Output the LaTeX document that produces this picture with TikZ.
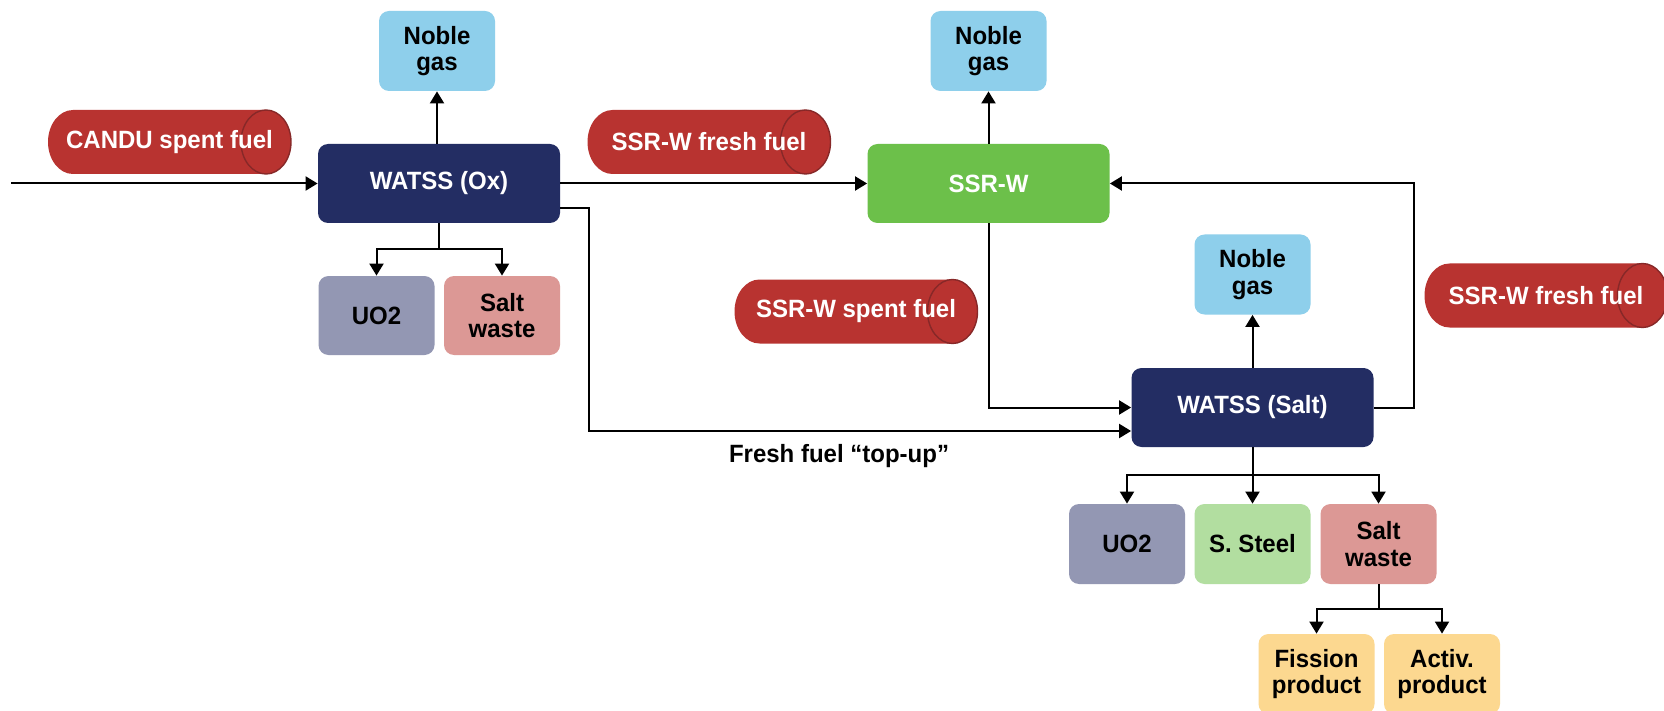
\documentclass[tikz,border=0pt]{standalone}
\usepackage{fontspec}
\setmainfont{Liberation Sans}[FakeStretch=0.96]
\usetikzlibrary{arrows.meta}
\definecolor{navy}{RGB}{35,45,99}
\definecolor{ssrgreen}{RGB}{108,192,74}
\definecolor{gasblue}{RGB}{142,207,235}
\definecolor{uogray}{RGB}{147,151,179}
\definecolor{saltpink}{RGB}{220,152,149}
\definecolor{steelgreen}{RGB}{178,222,160}
\definecolor{prodyellow}{RGB}{252,216,144}
\definecolor{fuelred}{RGB}{184,51,48}
\definecolor{capred}{RGB}{135,40,40}
\tikzset{
  base/.style={rounded corners=5pt, inner sep=0pt, align=center,
    font=\fontsize{12.5}{13.2}\selectfont\bfseries},
  bigbox/.style={base, minimum width=121pt, minimum height=39.5pt, text=white},
  smallbox/.style={base, minimum width=58pt, minimum height=39.5pt, text=black},
  fueltext/.style={inner sep=0pt, text=white, font=\fontsize{12.5}{13.2}\selectfont\bfseries},
  lbl/.style={inner sep=0pt, font=\fontsize{12.5}{13.2}\selectfont\bfseries},
  arr/.style={line width=1pt, -{Triangle[length=6pt,width=7pt]}},
  capline/.style={draw=capred, line width=0.7pt}
}
\newcommand\fuelcyl[4]{%
  \pgfmathsetmacro\cylL{#2-96.5}\pgfmathsetmacro\cylR{#2+96.5}%
  \pgfmathsetmacro\cylT{#3-32}\pgfmathsetmacro\cylB{#3+32}%
  \fill[fuelred] (\cylL,\cylT) -- (\cylR,\cylT)
    arc[start angle=90,end angle=-90,x radius=12.5pt,y radius=16pt]
    -- (\cylL,\cylB)
    arc[start angle=270,end angle=90,x radius=12.5pt,y radius=16pt] -- cycle;
  \draw[capline] (\cylR,#3) ellipse[x radius=12.5pt,y radius=16pt];
  \node[fueltext] (#1) at (#2,#3) {#4};
}
\begin{document}
\begin{tikzpicture}[x=0.5pt,y=-0.5pt]
\clip (0,0) rectangle (1664,711);
\fill[white] (0,0) rectangle (1664,711);

% fuel cylinders
\fuelcyl{candu}{169.5}{142}{CANDU spent fuel}
\fuelcyl{freshA}{709}{142}{SSR-W fresh fuel}
\fuelcyl{spent}{856}{311.5}{SSR-W spent fuel}
\fuelcyl{freshB}{1546}{295.5}{SSR-W fresh fuel}

% main process boxes
\node[bigbox, fill=navy] (watssox) at (439,183.5) {WATSS (Ox)};
\node[bigbox, fill=ssrgreen] (ssrw) at (988.5,183.5) {SSR-W};
\node[bigbox, fill=navy] (watsssalt) at (1252.5,407.5) {WATSS (Salt)};

% noble gas
\node[smallbox, fill=gasblue, minimum height=40pt] (ngA) at (437,51) {Noble\\gas};
\node[smallbox, fill=gasblue, minimum height=40pt] (ngB) at (988.5,51) {Noble\\gas};
\node[smallbox, fill=gasblue, minimum height=40pt] (ngC) at (1252.5,274.5) {Noble\\gas};

% products of WATSS (Ox)
\node[smallbox, fill=uogray] (uoA) at (376.5,315.5) {UO2};
\node[smallbox, fill=saltpink] (saltA) at (502,315.5) {Salt\\waste};

% products of WATSS (Salt)
\node[smallbox, fill=uogray, minimum height=40pt] (uoB) at (1127,544) {UO2};
\node[smallbox, fill=steelgreen, minimum height=40pt] (steel) at (1252.5,544) {S. Steel};
\node[smallbox, fill=saltpink, minimum height=40pt] (saltB) at (1378.5,544) {Salt\\waste};
\node[smallbox, fill=prodyellow, minimum height=40pt] (fission) at (1316.5,674) {Fission\\product};
\node[smallbox, fill=prodyellow, minimum height=40pt] (activ) at (1442,674) {Activ.\\product};

% label
\node[lbl] (topup) at (839,456) {Fresh fuel “top-up”};

% connectors
\coordinate (feed) at (11,183.5);
\draw[arr] (feed) -- (watssox.west);
\draw[arr] (watssox.north -| ngA.south) -- (ngA.south);
\draw[arr] (watssox.east) -- (ssrw.west);
\draw[arr] ([yshift=-12.25pt]watssox.east) -- ++(29,0) |- ([yshift=-11.75pt]watsssalt.west);
\draw[arr] (ssrw.north) -- (ngB.south);
\draw[arr] (ssrw.south) |- (watsssalt.west);
\draw[arr] (watsssalt.east) -- ++(40,0) |- (ssrw.east);
\draw[arr] (watsssalt.north) -- (ngC.south);

\draw[arr] (watssox.south) -- ++(0,26) -| (uoA.north);
\draw[arr] (watssox.south) -- ++(0,26) -| (saltA.north);

\draw[arr] (watsssalt.south) -- ++(0,28) -| (uoB.north);
\draw[arr] (watsssalt.south) -- (steel.north);
\draw[arr] (watsssalt.south) -- ++(0,28) -| (saltB.north);

\draw[arr] (saltB.south) -- ++(0,25) -| (fission.north);
\draw[arr] (saltB.south) -- ++(0,25) -| (activ.north);
\end{tikzpicture}
\end{document}
